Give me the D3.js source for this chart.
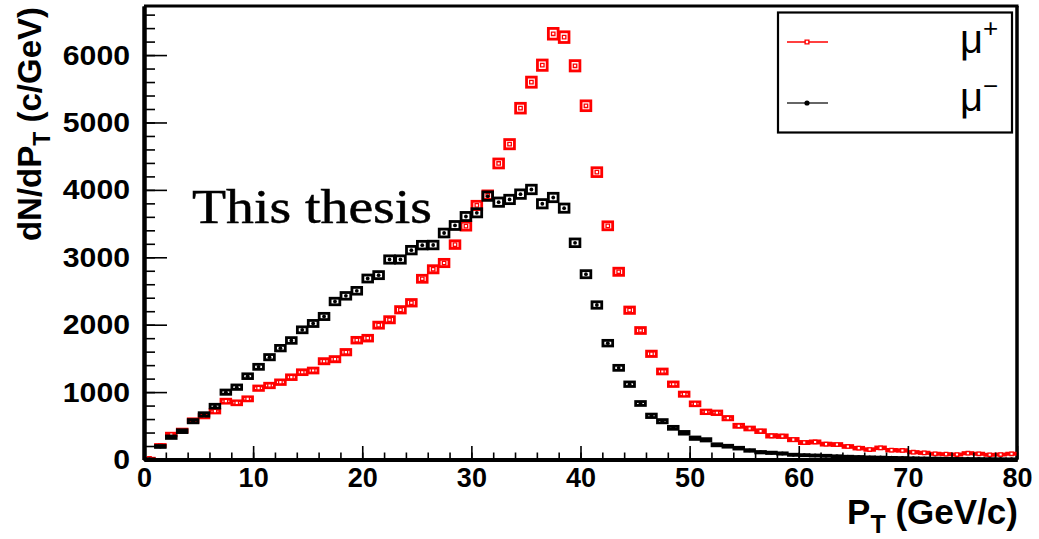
<!DOCTYPE html>
<html>
<head>
<meta charset="utf-8">
<script src="https://cdn.jsdelivr.net/npm/d3@7"></script>
<style>
  html, body { margin: 0; padding: 0; background: #fff; }
  svg { display: block; }
</style>
</head>
<body>
<svg id="chart" width="1039" height="539"></svg>
<script>
// ---------- data ----------
const binEdgesMin = 0;
const binWidth = 1;           // GeV per bin
const muPlus = [15, 208, 371, 430, 579, 643, 717, 865, 841, 900,
  1058, 1098, 1147, 1221, 1295, 1320, 1458, 1488, 1592, 1770,
  1800, 1993, 2073, 2221, 2325, 2681, 2822, 2915, 3188, 3462,
  3769, 3922, 4392, 4678, 5212, 5598, 5850, 6316, 6266, 5841,
  5248, 4263, 3467, 2785, 2215, 1914, 1568, 1306, 1117, 969,
  826, 707, 693, 613, 500, 460, 420, 351, 345, 295,
  252, 260, 228, 222, 193, 168, 148, 173, 138, 134,
  108, 99, 85, 79, 74, 93, 85, 70, 74, 85];
const muMinus = [5, 193, 331, 420, 568, 668, 791, 999, 1073, 1236,
  1375, 1518, 1652, 1766, 1924, 2018, 2122, 2344, 2428, 2503,
  2685, 2735, 2967, 2967, 3106, 3180, 3182, 3360, 3472, 3605,
  3660, 3907, 3818, 3858, 3937, 4006, 3794, 3887, 3729, 3215,
  2749, 2292, 1726, 1360, 1117, 831, 648, 568, 470, 396,
  316, 292, 218, 197, 168, 134, 108, 99, 89, 70,
  64, 59, 55, 48, 42, 38, 33, 30, 26, 24,
  20, 18, 16, 14, 12, 11, 10, 9, 8, 7];
const xTickValues = [0, 10, 20, 30, 40, 50, 60, 70, 80];
const xMinorValues = d3.range(0, 81, 2);
const yTickValues = [0, 1000, 2000, 3000, 4000, 5000, 6000];
const yMinorValues = d3.range(0, 6701, 200);
const xDomain = [0, 80];
const yDomain = [0, 6728];
const seriesNames = ["\u03BC", "\u03BC"];
const seriesSup = ["+", "\u2212"];
const seriesColors = ["#ff0000", "#000000"];

// ---------- layout ----------
const svg = d3.select("#chart");
const pLeft = 144, pRight = 1017, pTop = 6, pBottom = 459.5;
const x = d3.scaleLinear().domain(xDomain).range([pLeft, pRight]);
const y = d3.scaleLinear().domain(yDomain).range([pBottom, pTop]);

// frame (top / right)
svg.append("line").attr("x1", pLeft).attr("x2", pRight + 1.5).attr("y1", pTop).attr("y2", pTop)
  .attr("stroke", "#000").attr("stroke-width", 3);
svg.append("line").attr("x1", pRight).attr("x2", pRight).attr("y1", pTop).attr("y2", pBottom)
  .attr("stroke", "#000").attr("stroke-width", 3.5);

// ---------- histograms ----------
function drawHist(values, color, markerType) {
  const g = svg.append("g");
  const bins = values.map((v, i) => ({ lo: binEdgesMin + i * binWidth, v }));
  g.selectAll("rect").data(bins).join("rect")
    .attr("x", d => x(d.lo) + 0.6)
    .attr("width", d => x(d.lo + binWidth) - x(d.lo) - 1.2)
    .attr("y", d => y(d.v + Math.sqrt(d.v)))
    .attr("height", d => Math.max(0.01, y(d.v - Math.sqrt(d.v)) - y(d.v + Math.sqrt(d.v))))
    .attr("fill", "none")
    .attr("stroke", color)
    .attr("stroke-width", 2.8);
  if (markerType === "square") {
    g.selectAll("path.m").data(bins).join("path").attr("class", "m")
      .attr("d", d3.symbol(d3.symbolSquare, 12))
      .attr("transform", d => `translate(${x(d.lo + binWidth / 2)},${y(d.v)})`)
      .attr("fill", "#fff").attr("stroke", color).attr("stroke-width", 1.3);
  } else {
    g.selectAll("circle.m").data(bins).join("circle").attr("class", "m")
      .attr("cx", d => x(d.lo + binWidth / 2)).attr("cy", d => y(d.v))
      .attr("r", 1.9).attr("fill", color);
  }
}
drawHist(muPlus, seriesColors[0], "square");
drawHist(muMinus, seriesColors[1], "dot");

// ---------- axes ----------
const xMinorAxis = d3.axisBottom(x).tickValues(xMinorValues).tickSizeInner(-7).tickSizeOuter(0).tickFormat("");
const xAxis = d3.axisBottom(x).tickValues(xTickValues).tickSizeInner(-13.5).tickSizeOuter(0).tickPadding(8.5)
  .tickFormat(d3.format("d"));
const yMinorAxis = d3.axisLeft(y).tickValues(yMinorValues).tickSizeInner(-11).tickSizeOuter(0).tickFormat("");
const yAxis = d3.axisLeft(y).tickValues(yTickValues).tickSizeInner(-23).tickSizeOuter(0).tickPadding(14)
  .tickFormat(d3.format("d"));

function styleAxis(g) {
  g.select(".domain").attr("stroke", "#000").attr("stroke-width", 4);
  g.selectAll(".tick line").attr("stroke", "#000").attr("stroke-width", 1.6);
  g.selectAll(".tick text").attr("fill", "#000")
    .attr("font-family", "'Liberation Sans', Arial, sans-serif")
    .attr("font-weight", "bold").attr("font-size", 27);
}
svg.append("g").attr("transform", `translate(0,${pBottom})`).call(xMinorAxis).call(styleAxis);
svg.append("g").attr("transform", `translate(0,${pBottom})`).call(xAxis).call(styleAxis);
svg.append("g").attr("transform", `translate(${pLeft},0)`).call(yMinorAxis).call(styleAxis);
const yAxisG = svg.append("g").attr("transform", `translate(${pLeft},0)`).call(yAxis).call(styleAxis);
// y labels in the reference are drawn a little wider than the x labels
yAxisG.selectAll(".tick text").attr("font-size", 28)
  .attr("textLength", function () { return this.textContent.length * 16.8; })
  .attr("lengthAdjust", "spacingAndGlyphs");

// ---------- axis titles ----------
const xt = svg.append("text").attr("x", 1018).attr("y", 524).attr("text-anchor", "end")
  .attr("font-family", "'Liberation Sans', Arial, sans-serif").attr("font-weight", "bold")
  .attr("font-size", 35).attr("fill", "#000");
xt.append("tspan").text("P");
xt.append("tspan").attr("font-size", 25).attr("dy", 9).text("T");
xt.append("tspan").attr("dy", -9).text(" (GeV/c)");

const yt = svg.append("text").attr("transform", "translate(41,124) rotate(-90)").attr("text-anchor", "middle")
  .attr("font-family", "'Liberation Sans', Arial, sans-serif").attr("font-weight", "bold")
  .attr("font-size", 33).attr("fill", "#000");
yt.append("tspan").text("dN/dP");
yt.append("tspan").attr("font-size", 23).attr("dy", 9).text("T");
yt.append("tspan").attr("dy", -9).text(" (c/GeV)");

// ---------- "This thesis" ----------
svg.append("text").attr("x", 192).attr("y", 223)
  .attr("font-family", "'Liberation Serif', 'Times New Roman', serif")
  .attr("font-size", 49).attr("fill", "#000").attr("stroke", "#000").attr("stroke-width", 0.5)
  .attr("textLength", 240).attr("lengthAdjust", "spacingAndGlyphs")
  .text("This thesis");

// ---------- legend ----------
const lg = svg.append("g");
lg.append("rect").attr("x", 778).attr("y", 12.5).attr("width", 234).attr("height", 120)
  .attr("fill", "#fff").attr("stroke", "#000").attr("stroke-width", 2.2);
const entryY = [42, 103];
const textY = [53, 111];
seriesColors.forEach((c, i) => {
  lg.append("line").attr("x1", 787).attr("x2", 828).attr("y1", entryY[i]).attr("y2", entryY[i])
    .attr("stroke", i === 0 ? c : "#333").attr("stroke-width", 1.6);
  if (i === 0) {
    lg.append("path").attr("d", d3.symbol(d3.symbolSquare, 14))
      .attr("transform", `translate(807,${entryY[i]})`)
      .attr("fill", "#fff").attr("stroke", c).attr("stroke-width", 1.4);
  } else {
    lg.append("circle").attr("cx", 807).attr("cy", entryY[i]).attr("r", 2.6).attr("fill", c);
  }
  const t = lg.append("text").attr("x", 960).attr("y", textY[i])
    .attr("font-family", "'Liberation Sans', Arial, sans-serif").attr("font-size", 40).attr("fill", "#000");
  t.append("tspan").text(seriesNames[i]);
  t.append("tspan").attr("font-size", 26).attr("dy", -16).text(seriesSup[i]);
});
</script>
</body>
</html>
